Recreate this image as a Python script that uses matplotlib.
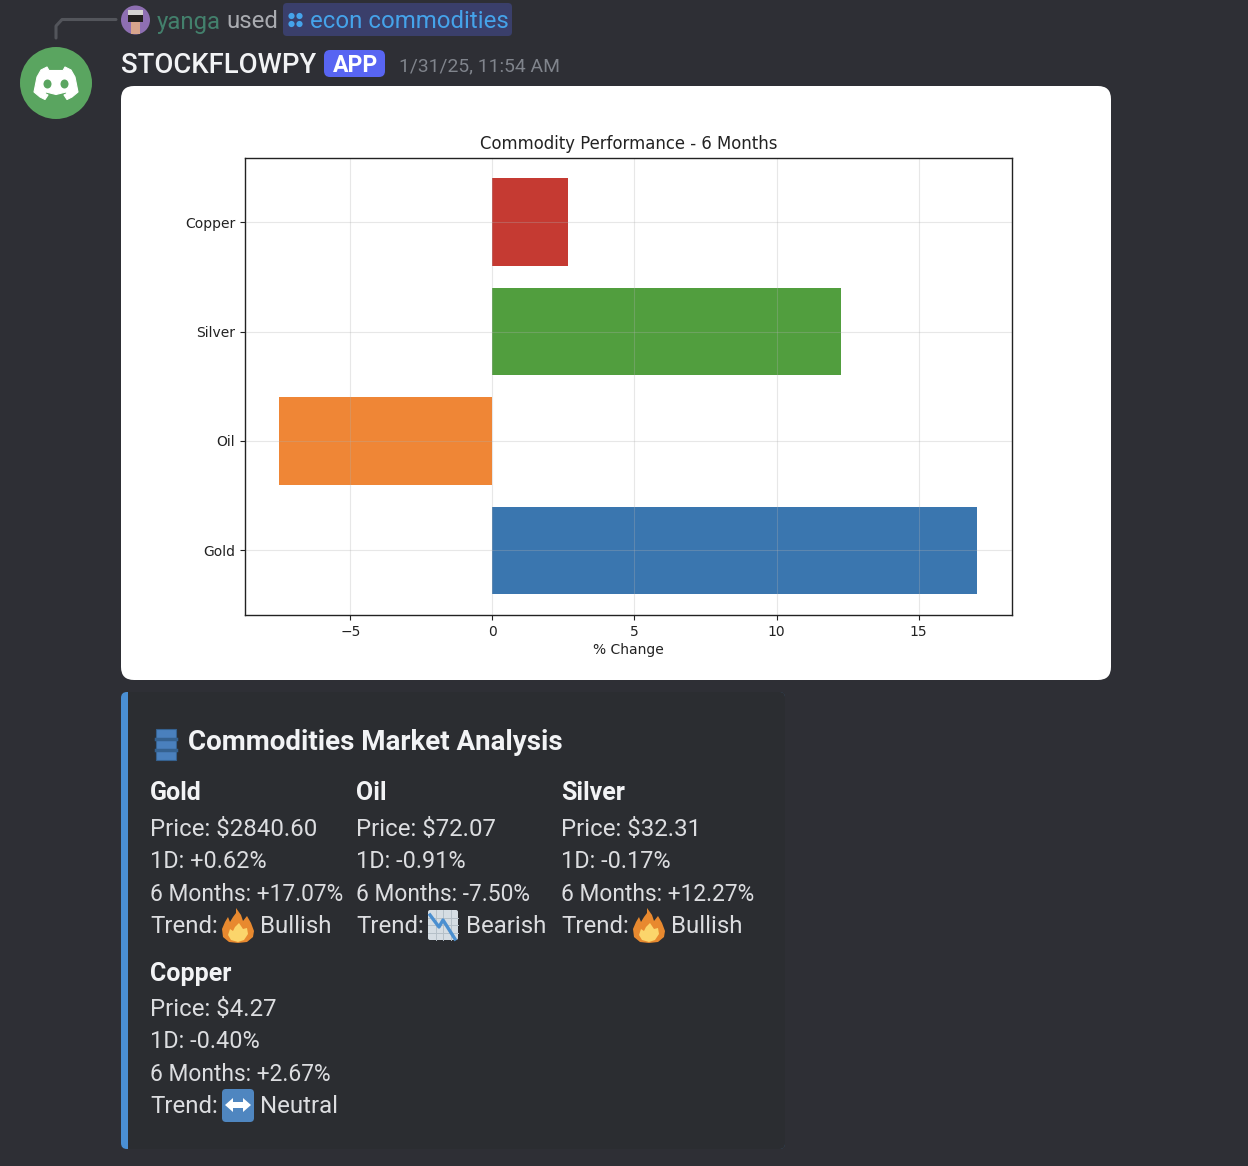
import matplotlib
matplotlib.use('Agg')
import matplotlib.pyplot as plt
from matplotlib.patches import Circle, FancyBboxPatch, Polygon, Rectangle, Ellipse

## Chart values
commodities = ['Gold', 'Oil', 'Silver', 'Copper']
changes_6m = [17.07, -7.50, 12.27, 2.67]
bar_colors = ['#3a76af', '#ef8636', '#519e3e', '#c53a32']

## Embed text
prices = ['$2840.60', '$72.07', '$32.31', '$4.27']
changes_1d = ['+0.62%', '-0.91%', '-0.17%', '-0.40%']
changes_6m_text = ['+17.07%', '-7.50%', '+12.27%', '+2.67%']
trends = ['Bullish', 'Bearish', 'Bullish', 'Neutral']

BG = '#2e2f35'
EMBED = '#2b2d31'
FONT = 'Roboto'

W, H = 1248, 1166
fig = plt.figure(figsize=(W / 100, H / 100), dpi=100, facecolor=BG)

## Full figure axes in pixel coordinates for the chat window
ui = fig.add_axes([0, 0, 1, 1])
ui.set_xlim(0, W)
ui.set_ylim(H, 0)
ui.axis('off')


def txt(x, y, s, px=24, color='#dcdde0', weight='normal', family=FONT):
    return ui.text(x, y, s, fontsize=px * 0.72, color=color, fontweight=weight,
                   family=family, ha='left', va='center_baseline', zorder=6)


def rbox(x, y, w, h, r, color, zorder=1):
    ui.add_patch(FancyBboxPatch((x + r, y + r), w - 2 * r, h - 2 * r,
                                boxstyle='round,pad=%f,rounding_size=%f' % (r, r),
                                fc=color, ec='none', zorder=zorder))


def fire(x, y, s=1.0):
    outer = [(-2, -17), (3, -10), (5, -4), (9, -9), (13, -2), (16, 6), (15, 12),
             (9, 17), (0, 18), (-9, 17), (-15, 12), (-16, 4), (-13, -3), (-10, -8),
             (-8, -3), (-5, -8), (-2, -12)]
    inner = [(1, -2), (5, 4), (9, 3), (10, 9), (6, 15), (0, 17), (-7, 15), (-10, 10),
             (-8, 4), (-5, 6), (-3, 2)]
    ui.add_patch(Polygon([(x + a * s, y + b * s) for a, b in outer], fc='#e8892f', ec='none', zorder=3))
    ui.add_patch(Polygon([(x + a * s, y + b * s) for a, b in inner], fc='#fbd56b', ec='none', zorder=4))


def chart_down(x, y):
    rbox(x - 15, y - 15, 30, 30, 2, '#d5dde3', zorder=3)
    for k in range(1, 4):
        ui.plot([x - 15, x + 15], [y - 15 + 7.5 * k] * 2, color='#b5c0c8', lw=0.7, zorder=4)
        ui.plot([x - 15 + 7.5 * k] * 2, [y - 15, y + 15], color='#b5c0c8', lw=0.7, zorder=4)
    ui.plot([x - 13, x - 4, x, x + 12], [y - 10, y + 2, y - 5, y + 14], color='#4a8fd0', lw=2.4, zorder=5)


def arrows(x, y):
    rbox(x - 16, y - 16, 32, 33, 4, '#4f86c0', zorder=3)
    pts = [(-13, 0), (-5, -7), (-5, -3), (5, -3), (5, -7), (13, 0), (5, 7), (5, 3), (-5, 3), (-5, 7)]
    ui.add_patch(Polygon([(x + a, y + b) for a, b in pts], fc='white', ec='none', zorder=4))


## Reply line and avatars
ui.plot([56, 56, 62, 116], [38, 26, 19.5, 19.5], color='#53555b', lw=2.2, solid_capstyle='round')
ui.add_patch(Circle((135.5, 20), 14.5, fc='#8e6fb2', ec='none'))
ui.add_patch(Rectangle((128, 10), 15, 5, fc='#d5d2d0', ec='none', zorder=2))
ui.add_patch(Rectangle((128, 15), 15, 7, fc='#23201f', ec='none', zorder=2))
ui.add_patch(Rectangle((131, 22), 9, 12, fc='#d8a58c', ec='none', zorder=2))

ui.add_patch(Circle((56, 83), 36, fc='#5aa560', ec='none'))
logo = [(41, 70), (47, 67), (49, 70.5), (63, 70.5), (65, 67), (71, 70), (75, 77), (78, 92),
        (72, 97), (67, 99.5), (64, 95), (67, 93.5), (66, 92), (56, 94.5), (46, 92), (45, 93.5),
        (48, 95), (45, 99.5), (40, 97), (34, 92), (37, 77)]
ui.add_patch(Polygon(logo, fc='white', ec='white', lw=0.8, joinstyle='round', zorder=2))
ui.add_patch(Ellipse((47.5, 84), 8, 9, fc='#5aa560', ec='none', zorder=3))
ui.add_patch(Ellipse((64.5, 84), 8, 9, fc='#5aa560', ec='none', zorder=3))

## Header
txt(157, 19.5, 'yanga', 24, '#43806c')
txt(226, 19.5, 'used', 24, '#a9abb0')
rbox(283, 3, 229, 33, 4, '#3a3f6b')
for dx, dy in [(-4, -4), (4, -4), (-4, 4), (4, 4)]:
    ui.add_patch(Circle((295.5 + dx, 20 + dy), 3.1, fc='#45a3ea', ec='none', zorder=2))
txt(310, 19.5, 'econ commodities', 24, '#45a3ea')
txt(121, 62.5, 'STOCKFLOWPY', 27.5, '#f2f3f5', 'medium')
rbox(324, 50, 61, 27, 6, '#5865f2')
txt(333, 63.5, 'APP', 23, 'white', 'bold')
txt(399, 64.5, '1/31/25, 11:54 AM', 19.3, '#80848c')

## White image card
rbox(121, 86, 990, 594, 13, 'white')

## Embed
rbox(121, 692, 664, 457, 6, '#4a8fd4')
rbox(128, 692, 657, 457, 5, EMBED, zorder=2)
ui.add_patch(Rectangle((128, 692), 8, 457, fc=EMBED, ec='none', zorder=2))
ui.add_patch(Rectangle((156, 729), 20, 31, fc='#4a80bd', ec='#35618f', lw=0.8, zorder=3))
for yy in (739, 750):
    ui.plot([156, 176], [yy, yy], color='#35618f', lw=2.5, zorder=4)
txt(188, 740, 'Commodities Market Analysis', 27.8, '#f2f3f5', 'bold')

col_x = [150, 356, 561, 150]
col_y = [791, 791, 791, 971]
for i, name in enumerate(commodities):
    x, y = col_x[i], col_y[i]
    txt(x, y, name, 25, '#f2f3f5', 'bold')
    txt(x, y + 36, 'Price: ' + prices[i])
    txt(x, y + 68, '1D: ' + changes_1d[i], 23.5)
    txt(x, y + 101, '6 Months: ' + changes_6m_text[i], 22.8)
    txt(x, y + 133, 'Trend:')
    if trends[i] == 'Bullish':
        fire(x + 88, y + 134)
    elif trends[i] == 'Bearish':
        chart_down(x + 87, y + 134)
    else:
        arrows(x + 88, y + 134)
    txt(x + 110, y + 133, trends[i])

## The bar chart itself
ax = fig.add_axes([245 / W, 1 - 615 / H, (1012 - 245) / W, (615 - 157.5) / H])
ax.barh(commodities, changes_6m, color=bar_colors)
ax.set_xlim(-8.71, 18.29)
ax.set_xticks([-5, 0, 5, 10, 15])
ax.set_title('Commodity Performance - 6 Months', fontsize=11.9, pad=6, color='#222222')
ax.set_xlabel('% Change', fontsize=10, labelpad=3, color='#222222')
ax.tick_params(labelsize=10, colors='#222222', length=3.5)
ax.grid(True, alpha=0.3)
for s in ax.spines.values():
    s.set_linewidth(1.0)
    s.set_color('#222222')

plt.savefig('out.png', dpi=100, facecolor=BG)
plt.close()
